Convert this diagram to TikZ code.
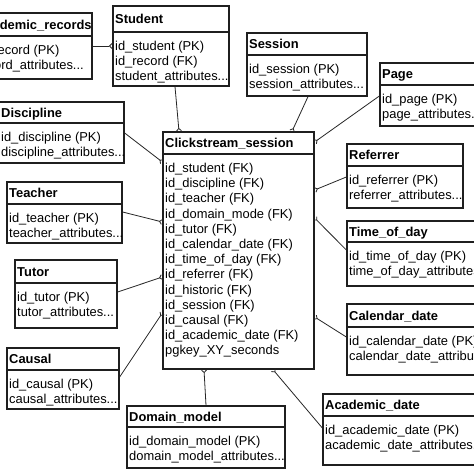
\documentclass[tikz,border=0pt]{standalone}
\usepackage{fontspec}
\setmainfont{Liberation Sans}
\usetikzlibrary{fit,arrows.meta}
\newcommand\rowx[1]{\hbox{#1}}
\newcommand\entity[8]{%
  \node[ebox, fit={(#2,#3) (#4,#5)}] (#1) {};
  \draw[eline] (#2,#6) -- (#4,#6);
  \node[etitle] (#1-t) at (#2+2, {(#3+#6)/2+4.5}) {#7};
  \node[ebody] (#1-b) at (#2+2, #6+18.5) {\vtop{\baselineskip=15.2pt #8}};
}
\tikzset{
  ebox/.style={draw=black!88, line width=1.3pt, inner sep=0pt, fill=none},
  eline/.style={draw=black!88, line width=1.1pt},
  etitle/.style={anchor=base west, inner sep=0pt, font=\fontsize{12.9}{15.2}\selectfont\bfseries},
  ebody/.style={anchor=base west, inner sep=0pt, font=\fontsize{12.9}{15.2}\selectfont},
  conn/.style={draw=black!85, line width=0.8pt, -{Straight Barb[reversed,length=2.5pt,width=5pt]}}
}
\begin{document}
\begin{tikzpicture}[x=1pt,y=-1pt]
\path[use as bounding box] (0,0) rectangle (474,474);
\clip (0,0) rectangle (474,474);
\fill[white] (0,0) rectangle (474,474);

\entity{acrec}{-26}{13}{92}{79}{36}{Academic\_records}{\rowx{id\_record (PK)}\rowx{record\_attributes...}}
\entity{student}{113}{6}{229}{86}{32}{Student}{\rowx{id\_student (PK)}\rowx{id\_record (FK)}\rowx{student\_attributes...}}
\entity{session}{247}{33}{367}{96}{55}{Session}{\rowx{id\_session (PK)}\rowx{session\_attributes...}}
\entity{page}{380}{63}{490}{126}{85}{Page}{\rowx{id\_page (PK)}\rowx{page\_attributes...}}
\entity{disc}{-1}{102}{124}{163}{123}{Discipline}{\rowx{id\_discipline (PK)}\rowx{discipline\_attributes...}}
\entity{ref}{347}{144}{463}{208}{166}{Referrer}{\rowx{id\_referrer (PK)}\rowx{referrer\_attributes...}}
\entity{teacher}{7}{182}{122}{243}{204}{Teacher}{\rowx{id\_teacher (PK)}\rowx{teacher\_attributes...}}
\entity{tod}{347}{221}{490}{286}{242}{Time\_of\_day}{\rowx{id\_time\_of\_day (PK)}\rowx{time\_of\_day\_attributes...}}
\entity{tutor}{15}{260}{117}{328}{283}{Tutor}{\rowx{id\_tutor (PK)}\rowx{tutor\_attributes...}}
\entity{cal}{347}{304}{490}{375}{327}{Calendar\_date}{\rowx{id\_calendar\_date (PK)}\rowx{calendar\_date\_attributes...}}
\entity{causal}{7}{348}{119}{409}{370}{Causal}{\rowx{id\_causal (PK)}\rowx{causal\_attributes...}}
\entity{domain}{127}{406}{285}{468}{427}{Domain\_model}{\rowx{id\_domain\_model (PK)}\rowx{domain\_model\_attributes...}}
\entity{acd}{323}{394}{490}{465}{416}{Academic\_date}{\rowx{id\_academic\_date (PK)}\rowx{academic\_date\_attributes...}}
\entity{cs}{163}{132}{314}{369}{154}{Clickstream\_session}{%
\rowx{id\_student (FK)}\rowx{id\_discipline (FK)}\rowx{id\_teacher (FK)}%
\rowx{id\_domain\_mode (FK)}\rowx{id\_tutor (FK)}\rowx{id\_calendar\_date (FK)}%
\rowx{id\_time\_of\_day (FK)}\rowx{id\_referrer (FK)}\rowx{id\_historic (FK)}%
\rowx{id\_session (FK)}\rowx{id\_causal (FK)}\rowx{id\_academic\_date (FK)}%
\rowx{pgkey\_XY\_seconds}}

\draw[conn] (acrec.east |- 0,46) -- (student.west |- 0,46);
\draw[conn] (student.south -| 175,0) -- (cs.north -| 179,0);
\draw[conn] (session.south -| 308,0) -- (cs.north -| 292,0);
\draw[conn] (page.west |- 0,96) -- (cs.east |- 0,142);
\draw[conn] (disc.east |- 0,133) -- (cs.west |- 0,162);
\draw[conn] (ref.west |- 0,177) -- (cs.east |- 0,190);
\draw[conn] (teacher.east |- 0,212) -- (cs.west |- 0,222);
\draw[conn] (tod.west |- 0,250) -- (cs.east |- 0,218);
\draw[conn] (tutor.east |- 0,292) -- (cs.west |- 0,277);
\draw[conn] (cal.west |- 0,337) -- (cs.east |- 0,317);
\draw[conn] (causal.east |- 0,377) -- (cs.west |- 0,313);
\draw[conn] (domain.north -| 206,0) -- (cs.south -| 204,0);
\draw[conn] (acd.west |- 0,428) -- (cs.south -| 273,0);
\end{tikzpicture}
\end{document}
